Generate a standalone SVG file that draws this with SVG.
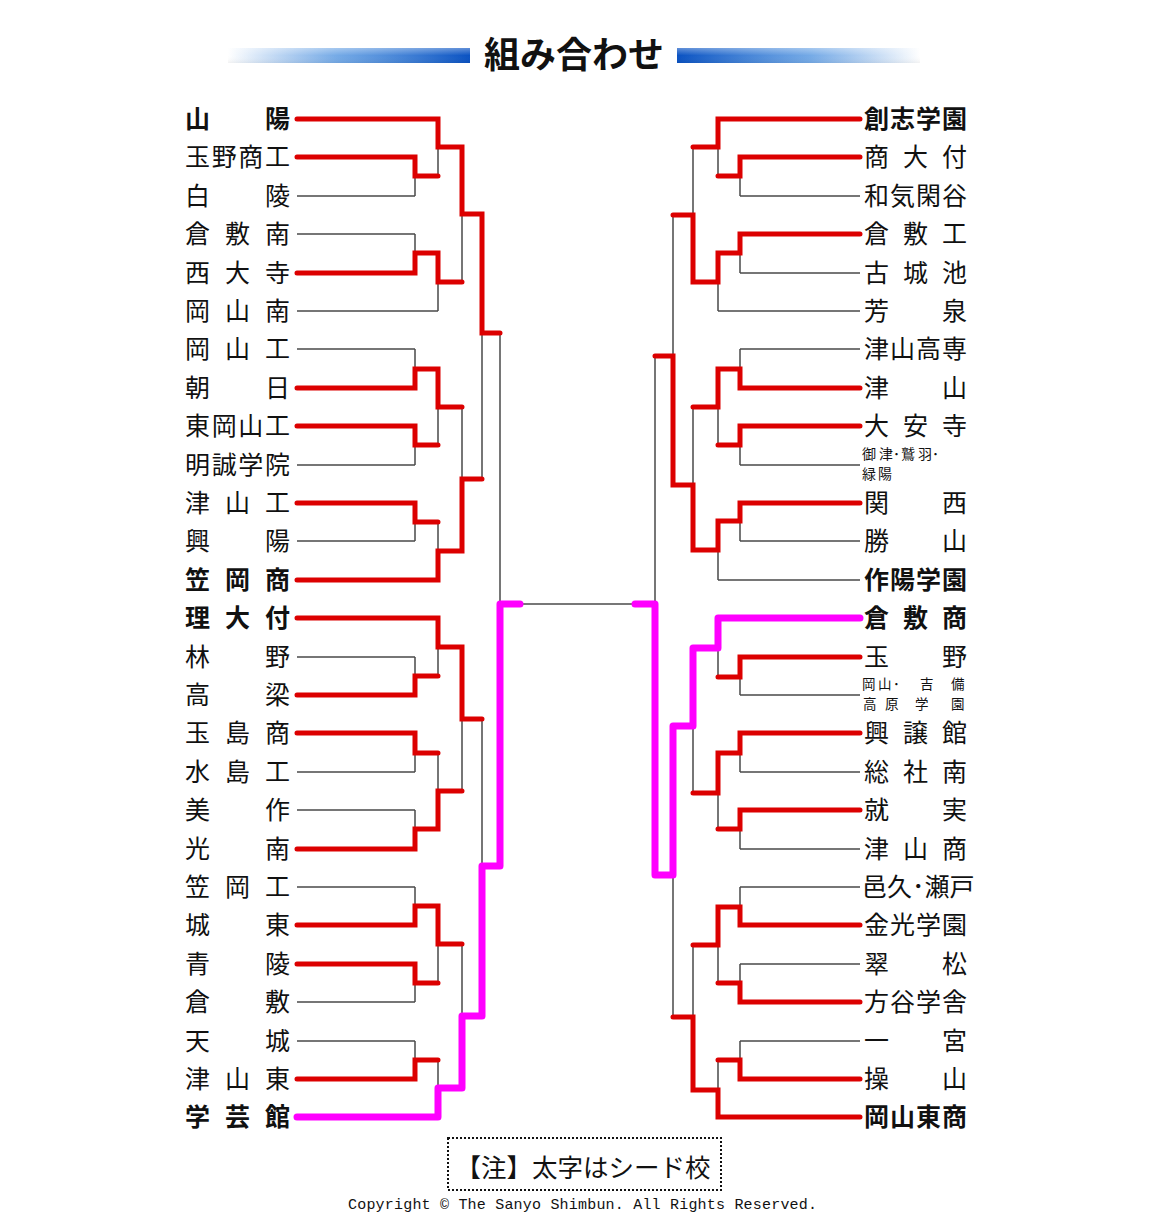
<svg xmlns="http://www.w3.org/2000/svg" width="1150" height="1220" viewBox="0 0 1150 1220">
<defs>
<linearGradient id="barL" x1="0" y1="0" x2="1" y2="0">
<stop offset="0" stop-color="#2a7ad8" stop-opacity="0"/>
<stop offset="0.45" stop-color="#3a86dc" stop-opacity="0.7"/>
<stop offset="1" stop-color="#0a52c2"/>
</linearGradient>
<linearGradient id="barR" x1="0" y1="0" x2="1" y2="0">
<stop offset="0" stop-color="#0a52c2"/>
<stop offset="0.55" stop-color="#3a86dc" stop-opacity="0.7"/>
<stop offset="1" stop-color="#2a7ad8" stop-opacity="0"/>
</linearGradient>
<linearGradient id="gloss" x1="0" y1="0" x2="0" y2="1">
<stop offset="0" stop-color="#ffffff" stop-opacity="0.35"/>
<stop offset="0.5" stop-color="#ffffff" stop-opacity="0"/>
<stop offset="1" stop-color="#000000" stop-opacity="0.05"/>
</linearGradient>
</defs>
<style>
.t{font-family:"Noto Sans CJK JP","Noto Sans CJK SC",sans-serif;font-size:25px;fill:#111}
.s{font-size:14px}
.s2{font-size:13.5px}
.b{font-weight:700}
.g{stroke:#4a4a4a;stroke-width:1.5;fill:none}
.r{stroke:#dc0000;stroke-width:5;fill:none;stroke-linecap:round;stroke-linejoin:miter}
.m{stroke:#ff00ff;stroke-width:7;fill:none;stroke-linecap:round;stroke-linejoin:round}
.title{font-family:"Noto Sans CJK JP",sans-serif;font-size:36px;font-weight:700;fill:#111}
.note{font-family:"Noto Sans CJK JP",sans-serif;font-size:25.5px;fill:#111}
.copy{font-family:"Liberation Mono","DejaVu Sans Mono",monospace;font-size:15px;fill:#111}
</style>
<rect width="1150" height="1220" fill="#ffffff"/>

<g id="title">
<rect x="228" y="48" width="242" height="15" fill="url(#barL)"/>
<rect x="228" y="48" width="242" height="15" fill="url(#gloss)"/>
<rect x="677" y="48" width="243" height="15" fill="url(#barR)"/>
<rect x="677" y="48" width="243" height="15" fill="url(#gloss)"/>
<text class="title" x="574" y="68" text-anchor="middle">組み合わせ</text>
</g>

<g id="connectors">
<path class="g" d="M297,196H415M297,234H415M297,311H438M297,349H415M297,465H415M297,541H415M297,657H415M297,772H415M297,810H415M297,887H415M297,1002H415M297,1041H415"/>
<path class="g" d="M415,157V196M415,234V273M415,349V388M415,426V465M415,503V541M415,657V695M415,733V772M415,810V849M415,887V925M415,964V1002M415,1041V1079"/>
<path class="g" d="M438,119V176M438,253V311M438,369V445M438,522V580M438,618V676M438,753V829M438,906V983M438,1060V1117"/>
<path class="g" d="M462,147V282M462,407V551M462,647V791M462,944V1088M482,214V479M482,719V1016M500,333V866"/>
<path class="g" d="M500,604H655"/>
<path class="g" d="M860,196H740M860,273H740M860,311H718M860,349H740M860,465H740M860,541H740M860,580H718M860,695H740M860,772H740M860,849H740M860,887H740M860,964H740M860,1041H740"/>
<path class="g" d="M740,157V196M740,234V273M740,349V388M740,426V465M740,503V541M740,657V695M740,733V772M740,810V849M740,887V925M740,964V1002M740,1041V1079"/>
<path class="g" d="M718,119V176M718,253V311M718,369V445M718,521V580M718,618V677M718,753V829M718,907V983M718,1060V1117"/>
<path class="g" d="M693,147V282M693,407V550M693,648V793M693,945V1090M673,215V485M673,726V1017M655,356V875"/>

<path class="r" d="M297,119H438V147H462V214H482V333H500"/>
<path class="r" d="M297,157H415V176H438"/>
<path class="r" d="M297,273H415V253H438V282H462"/>
<path class="r" d="M297,388H415V369H438V407H462"/>
<path class="r" d="M297,426H415V445H438"/>
<path class="r" d="M297,503H415V522H438"/>
<path class="r" d="M297,580H438V551H462V479H482"/>
<path class="r" d="M297,618H438V647H462V719H482"/>
<path class="r" d="M297,695H415V676H438"/>
<path class="r" d="M297,733H415V753H438"/>
<path class="r" d="M297,849H415V829H438V791H462"/>
<path class="r" d="M297,925H415V906H438V944H462"/>
<path class="r" d="M297,964H415V983H438"/>
<path class="r" d="M297,1079H415V1060H438"/>

<path class="r" d="M860,119H718V147H693"/>
<path class="r" d="M860,157H740V176H718"/>
<path class="r" d="M860,234H740V253H718V282H693V215H673"/>
<path class="r" d="M860,388H740V369H718V407H693"/>
<path class="r" d="M860,426H740V445H718"/>
<path class="r" d="M860,503H740V521H718V550H693V485H673V356H655"/>
<path class="r" d="M860,657H740V677H718"/>
<path class="r" d="M860,733H740V753H718V793H693"/>
<path class="r" d="M860,810H740V829H718"/>
<path class="r" d="M860,925H740V907H718V945H693"/>
<path class="r" d="M860,1002H740V983H718"/>
<path class="r" d="M860,1079H740V1060H718"/>
<path class="r" d="M860,1117H718V1090H693V1017H673"/>

<path class="m" d="M297,1117H438V1088H462V1016H482V866H500V604H520"/>
<path class="m" d="M860,618H718V648H693V726H673V875H655V604H635"/>
</g>

<g id="team-L00"><text class="t b" x="185 265" y="128">山陽</text></g>
<g id="team-L01"><text class="t" x="185 211.7 238.3 265" y="166">玉野商工</text></g>
<g id="team-L02"><text class="t" x="185 265" y="205">白陵</text></g>
<g id="team-L03"><text class="t" x="185 225 265" y="243">倉敷南</text></g>
<g id="team-L04"><text class="t" x="185 225 265" y="282">西大寺</text></g>
<g id="team-L05"><text class="t" x="185 225 265" y="320">岡山南</text></g>
<g id="team-L06"><text class="t" x="185 225 265" y="358">岡山工</text></g>
<g id="team-L07"><text class="t" x="185 265" y="397">朝日</text></g>
<g id="team-L08"><text class="t" x="185 211.7 238.3 265" y="435">東岡山工</text></g>
<g id="team-L09"><text class="t" x="185 211.7 238.3 265" y="474">明誠学院</text></g>
<g id="team-L10"><text class="t" x="185 225 265" y="512">津山工</text></g>
<g id="team-L11"><text class="t" x="185 265" y="550">興陽</text></g>
<g id="team-L12"><text class="t b" x="185 225 265" y="589">笠岡商</text></g>
<g id="team-L13"><text class="t b" x="185 225 265" y="627">理大付</text></g>
<g id="team-L14"><text class="t" x="185 265" y="666">林野</text></g>
<g id="team-L15"><text class="t" x="185 265" y="704">高梁</text></g>
<g id="team-L16"><text class="t" x="185 225 265" y="742">玉島商</text></g>
<g id="team-L17"><text class="t" x="185 225 265" y="781">水島工</text></g>
<g id="team-L18"><text class="t" x="185 265" y="819">美作</text></g>
<g id="team-L19"><text class="t" x="185 265" y="858">光南</text></g>
<g id="team-L20"><text class="t" x="185 225 265" y="896">笠岡工</text></g>
<g id="team-L21"><text class="t" x="185 265" y="934">城東</text></g>
<g id="team-L22"><text class="t" x="185 265" y="973">青陵</text></g>
<g id="team-L23"><text class="t" x="185 265" y="1011">倉敷</text></g>
<g id="team-L24"><text class="t" x="185 265" y="1050">天城</text></g>
<g id="team-L25"><text class="t" x="185 225 265" y="1088">津山東</text></g>
<g id="team-L26"><text class="t b" x="185 225 265" y="1126">学芸館</text></g>

<g id="team-R00"><text class="t b" x="864 890 916 942" y="128">創志学園</text></g>
<g id="team-R01"><text class="t" x="864 903 942" y="166">商大付</text></g>
<g id="team-R02"><text class="t" x="864 890 916 942" y="205">和気閑谷</text></g>
<g id="team-R03"><text class="t" x="864 903 942" y="243">倉敷工</text></g>
<g id="team-R04"><text class="t" x="864 903 942" y="282">古城池</text></g>
<g id="team-R05"><text class="t" x="864 942" y="320">芳泉</text></g>
<g id="team-R06"><text class="t" x="864 890 916 942" y="358">津山高専</text></g>
<g id="team-R07"><text class="t" x="864 942" y="397">津山</text></g>
<g id="team-R08"><text class="t" x="864 903 942" y="435">大安寺</text></g>
<g id="team-R09"><text class="t s" x="862 879 893 901 918 932" y="458.6">御津･鷲羽･</text><text class="t s" x="862 878" y="478.8">緑陽</text></g>
<g id="team-R10"><text class="t" x="864 942" y="512">関西</text></g>
<g id="team-R11"><text class="t" x="864 942" y="550">勝山</text></g>
<g id="team-R12"><text class="t b" x="864 890 916 942" y="589">作陽学園</text></g>
<g id="team-R13"><text class="t b" x="864 903 942" y="627">倉敷商</text></g>
<g id="team-R14"><text class="t" x="864 942" y="666">玉野</text></g>
<g id="team-R15"><text class="t s2" x="862 878 893 920 951" y="689.2">岡山･吉備</text><text class="t s2" x="863 885 915 951" y="708.8">高原学園</text></g>
<g id="team-R16"><text class="t" x="864 903 942" y="742">興譲館</text></g>
<g id="team-R17"><text class="t" x="864 903 942" y="781">総社南</text></g>
<g id="team-R18"><text class="t" x="864 942" y="819">就実</text></g>
<g id="team-R19"><text class="t" x="864 903 942" y="858">津山商</text></g>
<g id="team-R20"><text class="t" x="862" y="896" font-size="24">邑久･瀬戸</text></g>
<g id="team-R21"><text class="t" x="864 890 916 942" y="934">金光学園</text></g>
<g id="team-R22"><text class="t" x="864 942" y="973">翠松</text></g>
<g id="team-R23"><text class="t" x="864 890 916 942" y="1011">方谷学舎</text></g>
<g id="team-R24"><text class="t" x="864 942" y="1050">一宮</text></g>
<g id="team-R25"><text class="t" x="864 942" y="1088">操山</text></g>
<g id="team-R26"><text class="t b" x="864 890 916 942" y="1126">岡山東商</text></g>

<g id="note">
<rect x="448" y="1138" width="273" height="52" fill="none" stroke="#111" stroke-width="2" stroke-dasharray="2 2"/>
<text class="note" x="583" y="1177" text-anchor="middle">【注】太字はシード校</text>
</g>
<g id="copyright">
<text class="copy" x="348" y="1209" textLength="469">Copyright © The Sanyo Shimbun. All Rights Reserved.</text>
</g>
</svg>
